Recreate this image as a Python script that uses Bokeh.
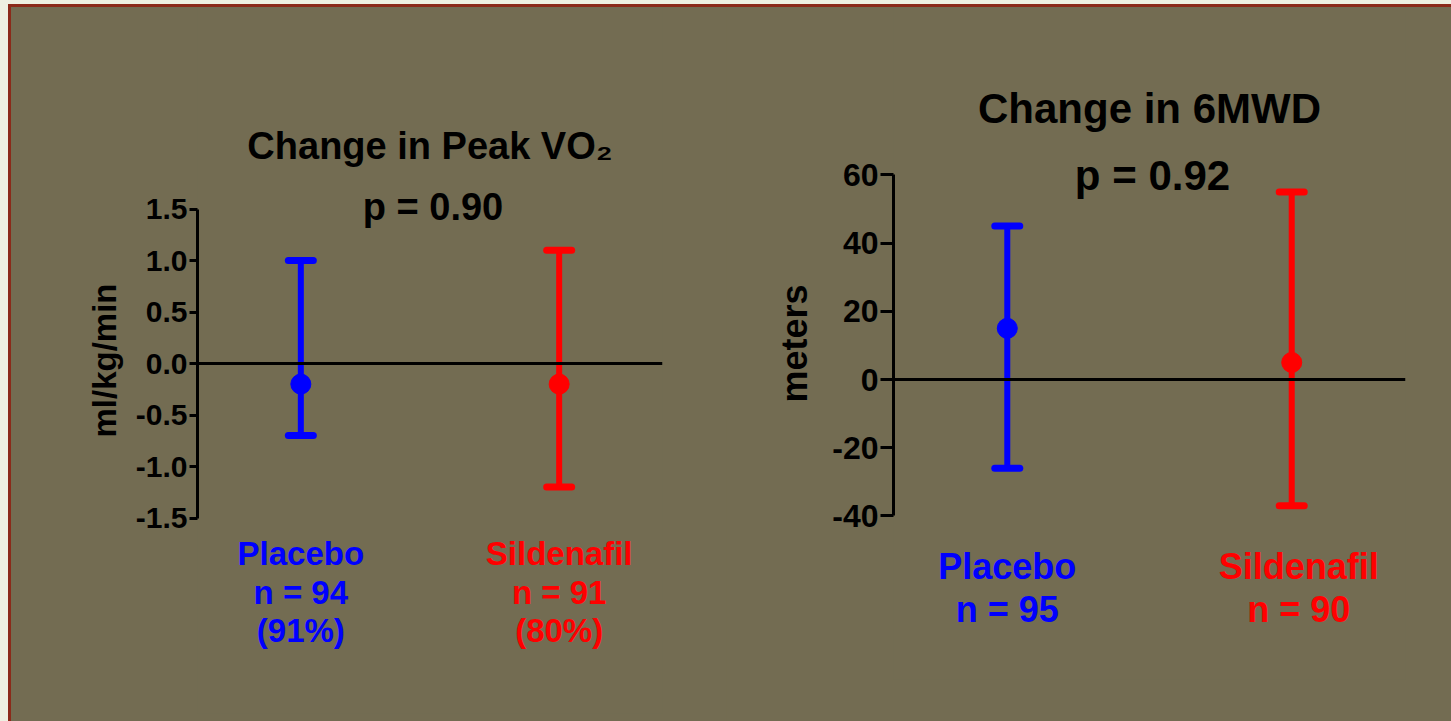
from bokeh.plotting import figure
from bokeh.layouts import row, column
from bokeh.models import Span, FixedTicker, NumeralTickFormatter
from bokeh.core.properties import value
from bokeh.embed import file_html
from bokeh.resources import INLINE

# ---------------- data ----------------
groups = ["Placebo", "Sildenafil"]
group_colors = ["#0000FF", "#FF0000"]

vo2_title = "Change in Peak VO₂"
vo2_p = "p = 0.90"
vo2_ylabel = "ml/kg/min"
vo2_mean = [-0.2, -0.2]
vo2_low = [-0.7, -1.2]
vo2_high = [1.0, 1.1]
vo2_n = ["n = 94", "n = 91"]
vo2_pct = ["(91%)", "(80%)"]
vo2_ticks = [-1.5, -1.0, -0.5, 0.0, 0.5, 1.0, 1.5]

mwd_title = "Change in 6MWD"
mwd_p = "p = 0.92"
mwd_ylabel = "meters"
mwd_mean = [15, 5]
mwd_low = [-26, -37]
mwd_high = [45, 55]
mwd_n = ["n = 95", "n = 90"]
mwd_ticks = [-40, -20, 0, 20, 40, 60]

BG = "#736C52"
FONT = "Liberation Sans"


def panel(title, ptext, ylabel, mean, low, high, lines, ticks, fmt,
          width, height, mb_left, mb_right, mb_bottom,
          zero_px, px_per_unit, tick_size, tick_out, label_size, label_standoff,
          title_size, p_size, grp_size, title_y, p_y, line_ys, line_dx):
    bottom_px = height - mb_bottom
    y_top = zero_px / px_per_unit
    y_bot = (zero_px - bottom_px) / px_per_unit

    def ypx(px):
        return (zero_px - px) / px_per_unit

    xs = [i + 1 for i in range(len(groups))]
    p = figure(width=width, height=height, x_range=(0.6, len(groups) + 0.4),
               y_range=(y_bot, y_top), output_backend="svg", toolbar_location=None,
               min_border_left=mb_left, min_border_right=mb_right,
               min_border_top=0, min_border_bottom=mb_bottom)
    p.background_fill_color = None
    p.border_fill_color = BG
    p.outline_line_color = None
    p.grid.visible = False
    p.xaxis.visible = False

    ax = p.yaxis[0]
    ax.bounds = (ticks[0], ticks[-1])
    ax.ticker = FixedTicker(ticks=ticks)
    ax.formatter = NumeralTickFormatter(format=fmt)
    ax.axis_line_width = 3
    ax.axis_line_color = "black"
    ax.major_tick_line_width = 3
    ax.major_tick_line_color = "black"
    ax.major_tick_out = tick_out
    ax.major_tick_in = 0
    ax.minor_tick_line_color = None
    ax.major_label_text_font = FONT
    ax.major_label_text_font_style = "bold"
    ax.major_label_text_font_size = f"{tick_size}px"
    ax.major_label_text_color = "black"
    ax.major_label_standoff = 2
    ax.axis_label = ylabel
    ax.axis_label_text_font = FONT
    ax.axis_label_text_font_style = "bold"
    ax.axis_label_text_font_size = f"{label_size}px"
    ax.axis_label_text_color = "black"
    ax.axis_label_standoff = label_standoff

    p.add_layout(Span(location=0, dimension="width", line_color="black", line_width=3))

    p.segment(x0=xs, y0=low, x1=xs, y1=high, line_color=group_colors, line_width=6)
    p.scatter(x=xs + xs, y=low + high, marker="dash", size=25,
              line_color=group_colors + group_colors, line_width=7, line_cap="round")
    p.scatter(x=xs, y=mean, size=20, fill_color=group_colors, line_color=group_colors)

    cx = (len(groups) + 1) / 2
    p.text(x=[cx], y=[ypx(title_y)], text=[title], text_align="center",
           text_baseline="alphabetic", text_font=value(FONT), text_font_style="bold",
           text_font_size=f"{title_size}px", text_color="black")
    p.text(x=[cx], y=[ypx(p_y)], text=[ptext], text_align="center",
           text_baseline="alphabetic", text_font=value(FONT), text_font_style="bold",
           text_font_size=f"{p_size}px", text_color="black", x_offset=3)

    for k, lab in enumerate(lines):
        p.text(x=xs, y=[ypx(line_ys[k])] * len(xs), text=lab, text_align="center",
               text_baseline="alphabetic", text_font=value(FONT), text_font_style="bold",
               text_font_size=f"{grp_size}px", text_color=group_colors,
               x_offset=[0, line_dx])
    return p


# positions below are relative to the top of each figure (page y - 7)
p1 = panel(vo2_title, vo2_p, vo2_ylabel, vo2_mean, vo2_low, vo2_high,
           [groups, vo2_n, vo2_pct], vo2_ticks, "0.0",
           width=715, height=714, mb_left=186, mb_right=64, mb_bottom=8,
           zero_px=356, px_per_unit=103, tick_size=30, tick_out=8,
           label_size=33, label_standoff=10,
           title_size=38, p_size=38, grp_size=33,
           title_y=138, p_y=199, line_ys=[546, 585, 623], line_dx=0)

p2 = panel(mwd_title, mwd_p, mwd_ylabel, mwd_mean, mwd_low, mwd_high,
           [groups, mwd_n], mwd_ticks, "0",
           width=725, height=714, mb_left=167, mb_right=46, mb_bottom=42,
           zero_px=372, px_per_unit=3.41, tick_size=32, tick_out=13,
           label_size=36, label_standoff=14,
           title_size=42, p_size=42, grp_size=36,
           title_y=101, p_y=168, line_ys=[559, 602], line_dx=7)

c1 = column(p1, styles={"background-color": BG})
c2 = column(p2, styles={"background-color": BG})
inner = row(c1, c2, styles={"border-left": "3px solid #8B2A1A",
                            "border-top": "3px solid #8B2A1A",
                            "background-color": BG})
outer = column(inner, styles={"background-color": "#EEF0E2",
                              "padding-left": "8px", "padding-top": "4px"})

open("out.html", "w").write(file_html(outer, INLINE))
